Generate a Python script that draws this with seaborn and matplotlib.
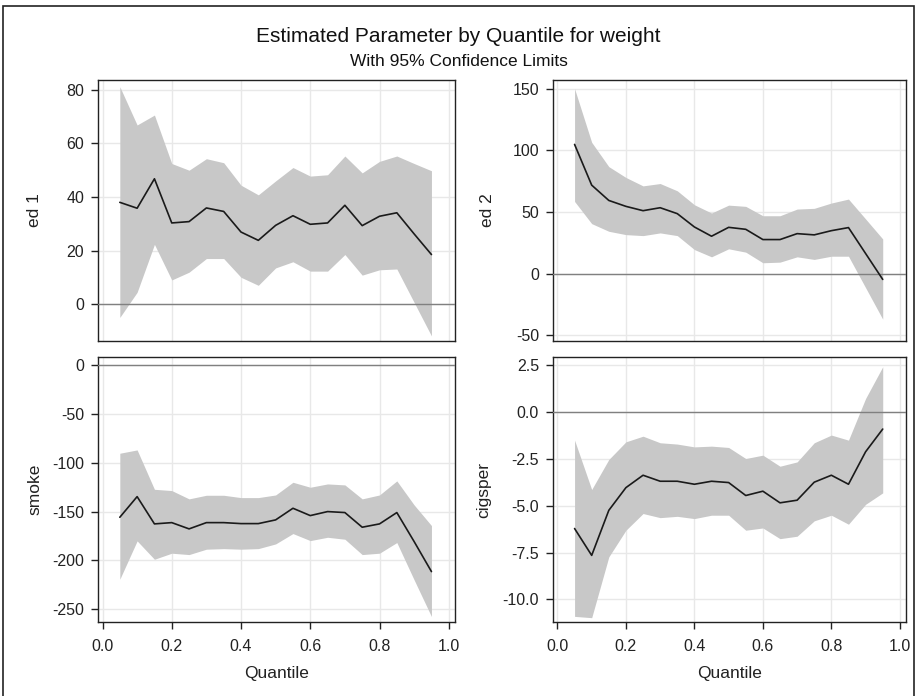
import numpy as np
import pandas as pd
import matplotlib
matplotlib.use("Agg")
import matplotlib.pyplot as plt
import seaborn as sns
from matplotlib.patches import Rectangle

# quantiles used for the regressions
quantiles = [0.05, 0.10, 0.15, 0.20, 0.25, 0.30, 0.35, 0.40, 0.45, 0.50,
             0.55, 0.60, 0.65, 0.70, 0.75, 0.80, 0.85, 0.90, 0.95]

# ed 1
ed1_est = [38.0, 35.8, 46.8, 30.3, 30.8, 35.9, 34.6, 26.9, 23.8, 29.4,
           33.0, 29.8, 30.3, 36.9, 29.3, 32.8, 34.1, 26.2, 18.5]
ed1_upper = [81.2, 66.9, 70.6, 52.5, 50.0, 54.3, 52.8, 44.4, 40.8, 46.0,
             51.0, 47.8, 48.3, 55.3, 49.0, 53.3, 55.3, 52.5, 49.8]
ed1_lower = [-5.0, 4.4, 22.3, 9.0, 11.9, 17.0, 17.0, 10.0, 7.0, 13.5,
             15.8, 12.3, 12.3, 18.5, 10.8, 12.8, 13.1, 0.6, -11.9]

# ed 2
ed2_est = [104.8, 71.8, 59.4, 54.6, 51.1, 53.5, 48.7, 37.9, 30.4, 37.6,
           36.0, 27.7, 27.7, 32.5, 31.5, 34.9, 37.4, 16.4, -4.6]
ed2_upper = [150.0, 106.5, 86.8, 78.0, 71.2, 73.1, 67.2, 55.9, 49.2, 55.6,
             54.6, 47.0, 47.0, 52.4, 53.0, 57.3, 60.5, 44.4, 28.2]
ed2_lower = [58.6, 40.6, 34.4, 31.7, 30.9, 33.1, 30.9, 19.6, 13.7, 20.2,
             17.5, 8.9, 9.4, 13.7, 11.6, 14.2, 14.2, -11.3, -36.8]

# smoke
smoke_est = [-155.8, -134.7, -162.6, -161.3, -167.7, -161.3, -161.3, -162.3, -162.3, -158.5,
             -146.6, -154.1, -150.0, -151.0, -166.0, -162.6, -151.0, -180.7, -211.4]
smoke_upper = [-90.3, -86.9, -127.2, -128.5, -137.0, -133.3, -133.3, -135.7, -135.7, -133.0,
               -120.0, -125.1, -121.7, -122.7, -137.0, -133.0, -118.6, -143.2, -164.3]
smoke_lower = [-219.2, -180.0, -198.8, -192.6, -194.0, -188.5, -187.9, -188.5, -187.9, -183.1,
               -172.5, -179.7, -176.3, -178.3, -194.0, -192.6, -181.7, -219.9, -257.4]

# cigsper
cig_est = [-6.22, -7.65, -5.25, -4.04, -3.38, -3.70, -3.70, -3.86, -3.70, -3.77,
           -4.46, -4.23, -4.85, -4.71, -3.75, -3.38, -3.86, -2.13, -0.92]
cig_upper = [-1.51, -4.14, -2.54, -1.60, -1.30, -1.65, -1.72, -1.87, -1.83, -1.90,
             -2.49, -2.31, -2.90, -2.67, -1.65, -1.24, -1.51, 0.71, 2.40]
cig_lower = [-10.90, -10.97, -7.73, -6.31, -5.42, -5.64, -5.57, -5.69, -5.51, -5.51,
             -6.31, -6.19, -6.76, -6.63, -5.81, -5.51, -5.99, -4.93, -4.32]

sns.set_theme(style="white")
plt.rcParams['font.family'] = ['Liberation Sans', 'DejaVu Sans']
plt.rcParams['axes.unicode_minus'] = False

W, H = 917, 696
fig = plt.figure(figsize=(W / 100, H / 100), dpi=100)

# panel layout in pixels: (left, top, right, bottom), label x in pixels
panels = [
    ("ed 1", ed1_est, ed1_lower, ed1_upper, (98, 80, 455, 341), (-13.8, 83.7), [0, 20, 40, 60, 80], False, 42),
    ("ed 2", ed2_est, ed2_lower, ed2_upper, (553, 80, 906, 341), (-54.5, 157), [-50, 0, 50, 100, 150], False, 495),
    ("smoke", smoke_est, smoke_lower, smoke_upper, (98, 357, 455, 622), (-263, 8.2), [-250, -200, -150, -100, -50, 0], True, 42),
    ("cigsper", cig_est, cig_lower, cig_upper, (553, 357, 906, 622), (-11.2, 2.92), [-10, -7.5, -5, -2.5, 0, 2.5], True, 491),
]

for name, est, lo, hi, (l, t, r, b), ylim, yticks, bottom, labx in panels:
    ax = fig.add_axes([l / W, 1 - b / H, (r - l) / W, (b - t) / H])
    df = pd.DataFrame({"Quantile": quantiles, "est": est, "lo": lo, "hi": hi})
    ax.fill_between(df["Quantile"], df["lo"], df["hi"], color="#c8c8c8", lw=0, zorder=2)
    sns.lineplot(data=df, x="Quantile", y="est", ax=ax, color="#1a1a1a", lw=1.2, zorder=4)
    ax.axhline(0, color="#808080", lw=1.0, zorder=3)
    ax.set_xlim(-0.013, 1.018)
    ax.set_ylim(*ylim)
    ax.set_xticks([0, 0.2, 0.4, 0.6, 0.8, 1.0])
    ax.set_yticks(yticks)
    if name == "cigsper":
        ax.set_yticklabels([f"{v:.1f}" for v in yticks])
    ax.grid(True, color="#e8e8e8", lw=1.0, zorder=0)
    ax.set_axisbelow(True)
    for s in ax.spines.values():
        s.set_color("#222222")
        s.set_linewidth(1.0)
    ax.tick_params(axis="y", left=True, length=5, width=1, color="#222222",
                   labelsize=11.5, labelcolor="#222222", pad=5)
    if bottom:
        ax.tick_params(axis="x", bottom=True, length=5, width=1, color="#222222",
                       labelsize=11.5, labelcolor="#222222", pad=7)
        ax.set_xticklabels(["0.0", "0.2", "0.4", "0.6", "0.8", "1.0"])
        ax.set_xlabel("Quantile", fontsize=12.5, color="#222222", labelpad=9)
    else:
        ax.tick_params(axis="x", bottom=False, labelbottom=False)
        ax.set_xlabel("")
    ax.set_ylabel(name, fontsize=12.5, color="#222222")
    ax.yaxis.set_label_coords((labx - l) / (r - l), 0.5)

fig.text(0.5, 1 - 37 / H, "Estimated Parameter by Quantile for weight",
         ha="center", va="center", fontsize=15, color="#111111")
fig.text(0.5, 1 - 61 / H, "With 95% Confidence Limits",
         ha="center", va="center", fontsize=12.5, color="#111111")

# outer frame around the graph
fig.patches.append(Rectangle((3 / W, -0.01), (W - 6) / W, 1 - 6 / H + 0.01,
                             transform=fig.transFigure, fill=False,
                             edgecolor="#222222", lw=1.2))

fig.savefig("out.png", dpi=100)
